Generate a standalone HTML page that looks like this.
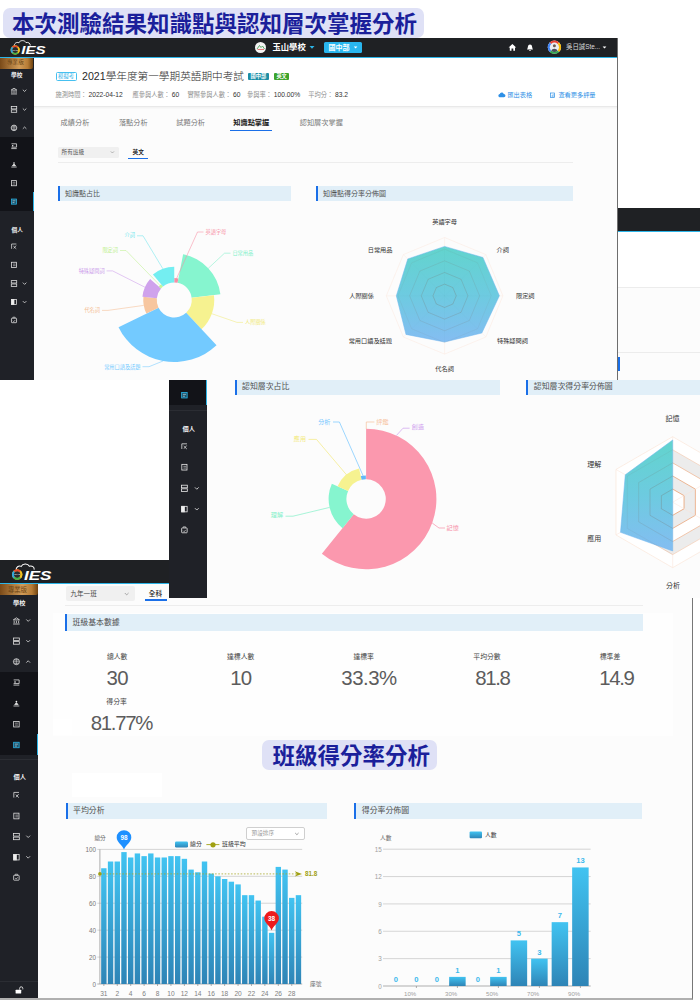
<!DOCTYPE html>
<html lang="zh-Hant">
<head>
<meta charset="utf-8">
<title>本次測驗結果知識點與認知層次掌握分析</title>
<style>
*{box-sizing:border-box;margin:0;padding:0}
html,body{width:700px;height:1000px;overflow:hidden;background:#fff}
body{position:relative;font-family:"Liberation Sans","Noto Sans CJK TC",sans-serif;color:#333}
.abs{position:absolute}
.t{position:absolute;white-space:nowrap;line-height:1}
.banner{position:absolute;background:#dfe1f6;border-radius:7px;color:#1b1f9b;font-weight:700;font-size:22.5px;letter-spacing:0;white-space:nowrap;line-height:32px}
.shot{position:absolute;overflow:hidden;background:#fcfcfc}
.hdr{position:absolute;left:0;top:0;background:#1f2124}
.side{position:absolute;left:0;background:#1f2127}
.sec{position:absolute;background:#e1eff8;border-left:2px solid #1a6fe8;color:#505050;white-space:nowrap}
svg{position:absolute;left:0;top:0;overflow:visible}
svg text{font-family:"Liberation Sans","Noto Sans CJK TC",sans-serif}
.inf{top:54.4px;font-size:6.25px;color:#909090}
.inf span{color:#333;font-size:6.7px;margin-left:1.8px}
.num{font-size:20.4px;color:#5c5c5c;line-height:1}
</style>
</head>
<body>

<!-- ============ hidden 4th screenshot (right strip) ============ -->
<div class="shot" id="s4" style="left:618px;top:208px;width:82px;height:172px;background:#fcfcfc">
  <div class="abs" style="left:0;top:0;width:82px;height:23px;background:#1f2124"></div>
  <div class="abs" style="left:0;top:23px;width:82px;height:1px;background:#2cb5e8"></div>
  <div class="abs" style="left:0;top:24px;width:82px;height:56px;background:#fff;border-bottom:1px solid #ececec"></div>
  <div class="abs" style="left:0;top:144px;width:82px;height:1px;background:#ececec"></div>
  <div class="abs" style="left:0;top:149px;width:2px;height:14px;background:#1a6fe8"></div>
</div>

<!-- ============ screenshot 1 ============ -->
<div class="shot" id="s1" style="left:0;top:38px;width:618px;height:342px;border-right:1px solid #6e6e6e">
  <!-- header -->
  <div class="abs" style="left:0;top:0;width:618px;height:19px;background:#1f2124"></div>
  <div class="abs" style="left:0;top:19px;width:618px;height:1px;background:#2cb5e8"></div>
  <!-- logo -->
  <svg width="60" height="20" viewBox="0 0 60 20">
    <path d="M14.4 8.2 C13.8 5.6 16.6 3.6 18.8 4.8 C20 2 24.6 1.8 26 4.6 C28.4 3.8 30.6 5.6 30.2 7.6" fill="none" stroke="#fff" stroke-width="0.9"/>
    <circle cx="15.2" cy="12" r="3.7" fill="none" stroke="#e6b422" stroke-width="1.9"/>
    <path d="M12.6 9.4 A3.7 3.7 0 0 1 17.8 9.4" fill="none" stroke="#e8452c" stroke-width="1.9"/>
    <path d="M17.8 9.4 A3.7 3.7 0 0 1 17.8 14.6" fill="none" stroke="#f0c020" stroke-width="1.9"/>
    <path d="M17.8 14.6 A3.7 3.7 0 0 1 12.6 14.6" fill="none" stroke="#3fb14a" stroke-width="1.9"/>
    <path d="M12.6 14.6 A3.7 3.7 0 0 1 12.6 9.4" fill="none" stroke="#2aa5e0" stroke-width="1.9"/>
    <circle cx="15.2" cy="12" r="2.7" fill="#2a2c30"/><text x="15.2" y="12.7" font-size="2" font-weight="700" fill="#ddd" text-anchor="middle">TEAM</text>
    <text x="21.2" y="16.4" font-size="11.4" font-weight="700" font-style="italic" fill="#fff" textLength="24.4" lengthAdjust="spacingAndGlyphs">IES</text>
  </svg>
  <!-- header centre -->
  <div class="abs" style="left:255px;top:3.5px;width:11px;height:11px;border-radius:50%;background:#f4f4f4"></div>
  <svg width="618" height="20" viewBox="0 0 618 20">
    <path d="M257 11 L259.5 7.5 L261 9.5 L262.5 8 L264.5 11" fill="none" stroke="#3a9a4a" stroke-width="0.8"/>
    <path d="M257.5 11.5 H264" stroke="#d44" stroke-width="0.7"/>
    <path d="M309.5 8 h5 l-2.5 2.8z" fill="#2cb5e8"/>
    <!-- home -->
    <path d="M508.6 9.6 L512.4 6 L516.2 9.6 H515 V12.8 H513.3 V10.5 H511.5 V12.8 H509.8 V9.6Z" fill="#fff"/>
    <!-- bell -->
    <path d="M527 11.5 C528 10.6 527.6 8 528.6 7 C529.2 6.2 530.8 6.2 531.4 7 C532.4 8 532 10.6 533 11.5Z M529.2 12 h1.6 v.8 h-1.6z" fill="#fff"/>
    <!-- avatar -->
    <circle cx="554.4" cy="9.2" r="6.6" fill="#fff"/>
    <path d="M549.7 4.5 A6.6 6.6 0 0 1 559.1 4.5 L554.4 9.2Z" fill="#ea4335"/>
    <path d="M559.1 4.5 A6.6 6.6 0 0 1 559.1 13.9 L554.4 9.2Z" fill="#fbbc05"/>
    <path d="M559.1 13.9 A6.6 6.6 0 0 1 549.7 13.9 L554.4 9.2Z" fill="#34a853"/>
    <path d="M549.7 13.9 A6.6 6.6 0 0 1 549.7 4.5 L554.4 9.2Z" fill="#4285f4"/>
    <circle cx="554.4" cy="9.2" r="4.6" fill="#e9eef2"/>
    <circle cx="554.4" cy="7.8" r="1.5" fill="#6b5a50"/>
    <path d="M551.4 12.8 C551.6 10 557.2 10 557.4 12.8 A4.6 4.6 0 0 1 551.4 12.8Z" fill="#4a4f5a"/>
    <path d="M602.6 8.4 h3.8 l-1.9 2.2z" fill="#fff"/>
  </svg>
  <div class="t" style="left:272.5px;top:5.2px;font-size:8.3px;font-weight:700;color:#fff">玉山學校</div>
  <div class="abs" style="left:323.5px;top:3.6px;width:38px;height:11px;border-radius:1.5px;background:#29b6ef"></div>
  <div class="t" style="left:328.5px;top:5.6px;font-size:7px;font-weight:700;color:#fff">國中部</div>
  <svg width="618" height="20" viewBox="0 0 618 20"><path d="M353.8 8.4 h3.6 l-1.8 2.1z" fill="#fff"/></svg>
  <div class="t" style="left:566px;top:6px;font-size:6.4px;color:#dcdcdc">吳日誠Ste...</div>
  <!-- sidebar -->
  <div class="side" style="top:20px;width:34px;height:322px"></div>
  <div class="abs" style="left:0;top:99px;width:34px;height:74px;background:#121318"></div>
  <div class="abs" style="left:33px;top:154px;width:1px;height:19px;background:#2cb5e8"></div>
  <div class="abs" style="left:0;top:20px;width:33px;height:10.5px;background:linear-gradient(90deg,#7a4a18,#d29c58 58%,#b67c36 84%,#70430f);border-radius:0 0 2px 0"></div>
  <div class="t" style="left:7px;top:22.4px;font-size:5.6px;color:#6b4514">專業版</div>
  <div class="t" style="left:11px;top:34.6px;font-size:5.7px;color:#f4f4f4;font-weight:700">學校</div>
  <div class="t" style="left:11.6px;top:190.4px;font-size:5.7px;color:#f4f4f4;font-weight:700">個人</div>
  <svg width="34" height="342" viewBox="0 0 34 342" fill="none" stroke="#e8e8e8" stroke-width="0.95">
<g transform="translate(14.0 52.6) scale(0.8)"><path d="M-3.6 -.6 L0 -3 L3.6 -.6 Z M-2.6 .4 V3.2 M0 .4 V3.2 M2.6 .4 V3.2 M-3.8 4.2 H3.8"/></g><g transform="translate(24.6 52.6) scale(0.8)"><path d="M-2.2 -1.1 l2.2 2.2 l2.2 -2.2"/></g>
<g transform="translate(14.0 71.4) scale(0.8)"><rect x="-3.4" y="-3.6" width="6.8" height="3"/><rect x="-3.4" y=".6" width="6.8" height="3"/></g><g transform="translate(24.6 71.4) scale(0.8)"><path d="M-2.2 -1.1 l2.2 2.2 l2.2 -2.2"/></g>
<g transform="translate(14.0 89.9) scale(0.8)"><circle cx="0" cy="0" r="3.5"/><path d="M-3.4 0 H3.4 M0 -3.4 V3.4 M-2.4 -2 H2.4 M-2.4 2 H2.4" stroke-width="0.6"/></g><g transform="translate(24.6 89.9) scale(0.8)"><path d="M-2.2 1.1 l2.2 -2.2 l2.2 2.2"/></g>
<g transform="translate(14.0 108.2) scale(0.8)"><path d="M-3.2 -3 H3.2 V1.2 H-3.2 M-3.4 3 H3.4"/><circle cx="-1.6" cy="-.6" r="0.9" fill="#fff" stroke="none"/></g>
<g transform="translate(14.0 126.7) scale(0.8)"><path d="M-3.4 2.9 H3.4"/><path d="M-2 1.2 L0 -1 L2 1.2 Z" fill="#eee"/><circle cx="0" cy="-2.2" r="1" fill="#eee" stroke="none"/></g>
<g transform="translate(14.0 145.2) scale(0.8)"><rect x="-3.2" y="-3.2" width="6.4" height="6.4"/><path d="M-1.8 -1.2 H1.8 M-1.8 1 H1.8" stroke-width="0.7"/></g>
<g transform="translate(14.0 163.6) scale(0.8)"><rect x="-3.2" y="-3.2" width="6.4" height="6.4" stroke="#2cb5e8" fill="#2cb5e8" fill-opacity=".4"/><path d="M-1.8 -1 H1.8 M-1.8 1.2 H.6" stroke="#d8f3ff" stroke-width="0.7"/></g>
<g transform="translate(14.0 208.4) scale(0.8)"><path d="M-3 -3 H3 M-3 -3 V3 M-.8 -.4 L2.8 3 M2.6 -1 L-.4 2.6" stroke-width="0.9"/></g>
<g transform="translate(14.0 226.9) scale(0.8)"><rect x="-3" y="-3.3" width="6" height="6.6"/><path d="M-1.2 -1 H2 M-1.2 1 H2" stroke-width="0.7"/></g>
<g transform="translate(14.0 245.5) scale(0.8)"><rect x="-3.4" y="-3.6" width="6.8" height="3"/><rect x="-3.4" y=".6" width="6.8" height="3"/></g><g transform="translate(24.6 245.5) scale(0.8)"><path d="M-2.2 -1.1 l2.2 2.2 l2.2 -2.2"/></g>
<g transform="translate(14.0 264.0) scale(0.8)"><rect x="-3.2" y="-3.2" width="6.4" height="6.4"/><rect x="-3.2" y="-3.2" width="3.2" height="6.4" fill="#eee"/></g><g transform="translate(24.6 264.0) scale(0.8)"><path d="M-2.2 -1.1 l2.2 2.2 l2.2 -2.2"/></g>
<g transform="translate(14.0 282.3) scale(0.8)"><rect x="-3.2" y="-2.6" width="6.4" height="5.6" rx="0.6"/><path d="M-1.4 -2.8 V-3.9 H1.4 V-2.8 M-1.4 .6 l1.1 1.1 l1.8 -2" stroke-width="0.8"/></g>
</svg>
  <!-- top panel -->
  <div class="abs" style="left:34px;top:20px;width:584px;height:49px;background:#fff;border-bottom:1px solid #e9e9e9;box-shadow:0 1px 2px rgba(0,0,0,.05)"></div>
  <div class="abs" style="left:55.5px;top:34px;width:21.5px;height:8.6px;border:1px solid #46c0f0;border-radius:1.5px"></div>
  <div class="t" style="left:58px;top:35.8px;font-size:5.4px;color:#2fb3ea">模擬考</div>
  <div class="t" style="left:82px;top:33px;font-size:10.65px;font-weight:300;color:#2a2a2a">2021學年度第一學期英語期中考試</div>
  <div class="abs" style="left:248.4px;top:34.8px;width:20.6px;height:7px;background:#1b8ea6;border-radius:1px"></div>
  <div class="t" style="left:250.6px;top:35.9px;font-size:5.2px;color:#fff;font-weight:700">國中部</div>
  <div class="abs" style="left:274px;top:34.8px;width:15.2px;height:7px;background:#3da42c;border-radius:1px"></div>
  <div class="t" style="left:276.4px;top:35.9px;font-size:5.2px;color:#fff;font-weight:700">英文</div>
  <div class="t inf" style="left:55.4px">施測時間：<span>2022-04-12</span></div>
  <div class="t inf" style="left:132.5px">應參與人數：<span>60</span></div>
  <div class="t inf" style="left:187.4px">實際參與人數：<span>60</span></div>
  <div class="t inf" style="left:247px">參與率：<span>100.00%</span></div>
  <div class="t inf" style="left:308.2px">平均分：<span>83.2</span></div>
  <!-- export links -->
  <svg width="618" height="342" viewBox="0 0 618 342">
    <path d="M499.4 59.2 a1.6 1.6 0 0 1 .4 -3.1 a2 2 0 0 1 3.9 -.2 a1.6 1.6 0 0 1 .2 3.3Z" fill="#2d8fe6"/>
    <rect x="550.6" y="55" width="4" height="4.6" fill="none" stroke="#2d8fe6" stroke-width="0.7"/>
    <circle cx="553.2" cy="58" r="1.2" fill="#fff" stroke="#2d8fe6" stroke-width="0.6"/>
  </svg>
  <div class="t" style="left:507.4px;top:53.6px;font-size:6.2px;color:#2d8fe6">匯出表格</div>
  <div class="t" style="left:558.4px;top:53.6px;font-size:6.2px;color:#2d8fe6">查看更多評量</div>
  <!-- tabs -->
  <div class="t" style="left:60.6px;top:81.2px;font-size:7.2px;color:#777">成績分析</div>
  <div class="t" style="left:118.9px;top:81.2px;font-size:7.2px;color:#777">落點分析</div>
  <div class="t" style="left:176.3px;top:81.2px;font-size:7.2px;color:#777">試題分析</div>
  <div class="t" style="left:233.3px;top:81.2px;font-size:7.2px;color:#222;font-weight:700">知識點掌握</div>
  <div class="abs" style="left:230.3px;top:92.4px;width:41.6px;height:1px;background:#1a6fe8"></div>
  <div class="t" style="left:299.7px;top:81.2px;font-size:7.2px;color:#777">認知層次掌握</div>
  <!-- filters -->
  <div class="abs" style="left:57.6px;top:108.6px;width:61.4px;height:11.4px;background:#f0f0f0;border-radius:1.5px"></div>
  <div class="t" style="left:61.6px;top:111.6px;font-size:5.6px;color:#555">所有班級</div>
  <svg width="618" height="342" viewBox="0 0 618 342"><path d="M110.8 113.4 l1.6 1.6 l1.6 -1.6" fill="none" stroke="#888" stroke-width="0.6"/></svg>
  <div class="t" style="left:132.6px;top:111.6px;font-size:5.6px;color:#222;font-weight:700">英文</div>
  <div class="abs" style="left:128.3px;top:120.4px;width:19.4px;height:1px;background:#1a6fe8"></div>
  <div class="abs" style="left:57.6px;top:123.6px;width:515px;height:1px;background:#ededed"></div>
  <!-- section headers -->
  <div class="sec" style="left:58px;top:148px;width:233px;height:15px;font-size:7px;line-height:15px;padding-left:5px">知識點占比</div>
  <div class="sec" style="left:316px;top:148px;width:257px;height:15px;font-size:7px;line-height:15px;padding-left:5px">知識點得分率分佈圖</div>
  <svg width="618" height="342" viewBox="0 0 618 342">
<path d="M174.25 240.00 A22 22 0 0 1 178.45 240.40 L177.59 244.82 A17.5 17.5 0 0 0 174.25 244.50Z" fill="#f78ea4"/>
<path d="M183.12 216.35 A46.5 46.5 0 0 1 220.40 256.33 L191.62 259.87 A17.5 17.5 0 0 0 177.59 244.82Z" fill="#86f5cf"/>
<path d="M213.95 257.13 A40 40 0 0 1 201.53 291.25 L186.18 274.80 A17.5 17.5 0 0 0 191.62 259.87Z" fill="#f6f290"/>
<path d="M216.53 307.34 A62 62 0 0 1 118.52 289.18 L158.52 269.67 A17.5 17.5 0 0 0 186.18 274.80Z" fill="#73caff"/>
<path d="M146.39 275.59 A31 31 0 0 1 143.42 258.76 L156.85 260.17 A17.5 17.5 0 0 0 158.52 269.67Z" fill="#f7c69f"/>
<path d="M142.43 258.66 A32 32 0 0 1 150.10 241.01 L161.04 250.52 A17.5 17.5 0 0 0 156.85 260.17Z" fill="#cfa2ec"/>
<path d="M158.78 248.55 A20.5 20.5 0 0 1 161.07 246.30 L163.00 248.59 A17.5 17.5 0 0 0 161.04 250.52Z" fill="#c6f59c"/>
<path d="M152.91 236.57 A33.2 33.2 0 0 1 174.25 228.80 L174.25 244.50 A17.5 17.5 0 0 0 163.00 248.59Z" fill="#74eef1"/>
<path d="M176.3 241.1 L197.5 194.0 L203.5 194.0" fill="none" stroke="#f78ea4" stroke-width="0.55"/><text x="205.5" y="193.8" font-size="5.2" fill="#f78ea4" text-anchor="start" dominant-baseline="central">英語字母</text>
<path d="M208.3 230.3 L224.5 215.2 L230.5 215.2" fill="none" stroke="#7cf0c8" stroke-width="0.55"/><text x="232.4" y="215.0" font-size="5.2" fill="#7cf0c8" text-anchor="start" dominant-baseline="central">日常用品</text>
<path d="M211.8 275.7 L237.0 284.4 L243.0 284.4" fill="none" stroke="#f1ea7c" stroke-width="0.55"/><text x="245" y="284.2" font-size="5.2" fill="#f1ea7c" text-anchor="start" dominant-baseline="central">人際關係</text>
<path d="M163.0 323.0 L149.0 328.7 L142.5 328.7" fill="none" stroke="#73caff" stroke-width="0.55"/><text x="140.5" y="328.5" font-size="5.2" fill="#73caff" text-anchor="end" dominant-baseline="central">常用口語及話題</text>
<path d="M143.7 267.4 L108.0 272.4 L102.0 272.4" fill="none" stroke="#f5bd92" stroke-width="0.55"/><text x="100" y="272.2" font-size="5.2" fill="#f5bd92" text-anchor="end" dominant-baseline="central">代名詞</text>
<path d="M144.9 249.2 L112.6 232.9 L106.6 232.9" fill="none" stroke="#cb9bea" stroke-width="0.55"/><text x="104.6" y="232.5" font-size="5.2" fill="#cb9bea" text-anchor="end" dominant-baseline="central">特殊疑問詞</text>
<path d="M160.2 247.7 L126.0 212.5 L120.0 212.5" fill="none" stroke="#bdf08e" stroke-width="0.55"/><text x="118" y="212.1" font-size="5.2" fill="#bdf08e" text-anchor="end" dominant-baseline="central">限定詞</text>
<path d="M162.9 230.8 L143.0 197.8 L137.0 197.8" fill="none" stroke="#6ee6ec" stroke-width="0.55"/><text x="135" y="197.4" font-size="5.2" fill="#6ee6ec" text-anchor="end" dominant-baseline="central">介詞</text>
<defs><linearGradient id="rg1" x1="0" y1="0" x2="0" y2="1"><stop offset="0" stop-color="#62d4cd"/><stop offset="0.5" stop-color="#6dcbe0"/><stop offset="1" stop-color="#84bdf2"/></linearGradient></defs>
<polygon points="444.60,199.50 403.38,216.58 386.30,257.80 403.38,299.02 444.60,316.10 485.82,299.02 502.90,257.80 485.82,216.58" fill="none" stroke="#fcebe3" stroke-width="0.6"/>
<line x1="444.6" y1="257.8" x2="444.60" y2="199.50" stroke="#fcebe3" stroke-width="0.5"/>
<line x1="444.6" y1="257.8" x2="403.38" y2="216.58" stroke="#fcebe3" stroke-width="0.5"/>
<line x1="444.6" y1="257.8" x2="386.30" y2="257.80" stroke="#fcebe3" stroke-width="0.5"/>
<line x1="444.6" y1="257.8" x2="403.38" y2="299.02" stroke="#fcebe3" stroke-width="0.5"/>
<line x1="444.6" y1="257.8" x2="444.60" y2="316.10" stroke="#fcebe3" stroke-width="0.5"/>
<line x1="444.6" y1="257.8" x2="485.82" y2="299.02" stroke="#fcebe3" stroke-width="0.5"/>
<line x1="444.6" y1="257.8" x2="502.90" y2="257.80" stroke="#fcebe3" stroke-width="0.5"/>
<line x1="444.6" y1="257.8" x2="485.82" y2="216.58" stroke="#fcebe3" stroke-width="0.5"/>
<polygon points="444.60,208.42 407.75,220.95 396.33,257.80 405.97,296.43 444.60,304.03 481.83,295.03 499.40,257.80 482.94,219.46" fill="url(#rg1)" stroke="#6db4ee" stroke-width="0.5"/>
<polygon points="444.60,246.14 436.36,249.56 432.94,257.80 436.36,266.04 444.60,269.46 452.84,266.04 456.26,257.80 452.84,249.56" fill="none" stroke="rgba(120,110,100,0.5)" stroke-width="0.55"/>
<polygon points="444.60,234.48 428.11,241.31 421.28,257.80 428.11,274.29 444.60,281.12 461.09,274.29 467.92,257.80 461.09,241.31" fill="none" stroke="rgba(120,110,100,0.42)" stroke-width="0.55"/>
<polygon points="444.60,222.82 419.87,233.07 409.62,257.80 419.87,282.53 444.60,292.78 469.33,282.53 479.58,257.80 469.33,233.07" fill="none" stroke="rgba(120,110,100,0.28)" stroke-width="0.55"/>
<polygon points="444.60,211.16 411.62,224.82 397.96,257.80 411.62,290.78 444.60,304.44 477.58,290.78 491.24,257.80 477.58,224.82" fill="none" stroke="rgba(120,110,100,0.14)" stroke-width="0.55"/>
<line x1="444.6" y1="257.8" x2="444.60" y2="211.16" stroke="rgba(90,120,130,.05)" stroke-width="0.5"/>
<line x1="444.6" y1="257.8" x2="411.62" y2="224.82" stroke="rgba(90,120,130,.05)" stroke-width="0.5"/>
<line x1="444.6" y1="257.8" x2="397.96" y2="257.80" stroke="rgba(90,120,130,.05)" stroke-width="0.5"/>
<line x1="444.6" y1="257.8" x2="411.62" y2="290.78" stroke="rgba(90,120,130,.05)" stroke-width="0.5"/>
<line x1="444.6" y1="257.8" x2="444.60" y2="304.44" stroke="rgba(90,120,130,.05)" stroke-width="0.5"/>
<line x1="444.6" y1="257.8" x2="477.58" y2="290.78" stroke="rgba(90,120,130,.05)" stroke-width="0.5"/>
<line x1="444.6" y1="257.8" x2="491.24" y2="257.80" stroke="rgba(90,120,130,.05)" stroke-width="0.5"/>
<line x1="444.6" y1="257.8" x2="477.58" y2="224.82" stroke="rgba(90,120,130,.05)" stroke-width="0.5"/>
<text x="444.6" y="183.2" font-size="6.2" fill="#333" text-anchor="middle" dominant-baseline="central">英語字母</text>
<text x="496.5" y="211.4" font-size="6.2" fill="#333" text-anchor="start" dominant-baseline="central">介詞</text>
<text x="516" y="257.0" font-size="6.2" fill="#333" text-anchor="start" dominant-baseline="central">限定詞</text>
<text x="497" y="302.6" font-size="6.2" fill="#333" text-anchor="start" dominant-baseline="central">特殊疑問詞</text>
<text x="444.6" y="330.5" font-size="6.2" fill="#333" text-anchor="middle" dominant-baseline="central">代名詞</text>
<text x="392" y="302.6" font-size="6.2" fill="#333" text-anchor="end" dominant-baseline="central">常用口語及話題</text>
<text x="374" y="257.0" font-size="6.2" fill="#333" text-anchor="end" dominant-baseline="central">人際關係</text>
<text x="392.5" y="211.4" font-size="6.2" fill="#333" text-anchor="end" dominant-baseline="central">日常用品</text>
</svg>
</div>

<!-- ============ screenshot 3 (class analysis) ============ -->
<div class="shot" id="s3" style="left:0;top:560px;width:693px;height:440px;border-right:1px solid #777;border-bottom:2px solid #b0b0b0">
  <div class="abs" style="left:0;top:0;width:693px;height:23px;background:#1f2124"></div>
<div class="abs" style="left:0;top:23px;width:693px;height:1.3px;background:#2cb5e8"></div>
<svg width="70" height="24" viewBox="0 0 60 20" style="width:67.8px;height:22.6px;top:0.6px;left:0.4px">
    <path d="M14.4 8.2 C13.8 5.6 16.6 3.6 18.8 4.8 C20 2 24.6 1.8 26 4.6 C28.4 3.8 30.6 5.6 30.2 7.6" fill="none" stroke="#fff" stroke-width="0.9"/>
    <circle cx="15.2" cy="12" r="3.7" fill="none" stroke="#e6b422" stroke-width="1.9"/>
    <path d="M12.6 9.4 A3.7 3.7 0 0 1 17.8 9.4" fill="none" stroke="#e8452c" stroke-width="1.9"/>
    <path d="M17.8 9.4 A3.7 3.7 0 0 1 17.8 14.6" fill="none" stroke="#f0c020" stroke-width="1.9"/>
    <path d="M17.8 14.6 A3.7 3.7 0 0 1 12.6 14.6" fill="none" stroke="#3fb14a" stroke-width="1.9"/>
    <path d="M12.6 14.6 A3.7 3.7 0 0 1 12.6 9.4" fill="none" stroke="#2aa5e0" stroke-width="1.9"/>
    <circle cx="15.2" cy="12" r="2.7" fill="#2a2c30"/><text x="15.2" y="12.7" font-size="2" font-weight="700" fill="#ddd" text-anchor="middle">TEAM</text>
    <text x="21.2" y="16.4" font-size="11.4" font-weight="700" font-style="italic" fill="#fff" textLength="24.4" lengthAdjust="spacingAndGlyphs">IES</text>
  </svg>
<div class="abs" style="left:0;top:1px;width:693px;height:439px">
<div class="side" style="top:23.3px;width:38.4px;height:414px"></div>
<div class="abs" style="left:0;top:111px;width:38.4px;height:83px;background:#121318"></div><div class="abs" style="left:0;top:198.2px;width:38.4px;height:1px;background:#2b2d33"></div>
<div class="abs" style="left:37px;top:173.4px;width:1.4px;height:20.6px;background:#2cb5e8"></div>
<div class="abs" style="left:0;top:419.6px;width:38.4px;height:1px;background:#2b2d33"></div>
<div class="abs" style="left:0;top:23.3px;width:37.8px;height:11.2px;background:linear-gradient(90deg,#7a4a18,#d29c58 58%,#b67c36 84%,#70430f);border-radius:0 0 2px 0"></div>
<div class="t" style="left:8px;top:26.4px;font-size:6.3px;color:#6b4514">專業版</div>
<div class="t" style="left:13px;top:38.6px;font-size:6.2px;color:#f4f4f4;font-weight:700">學校</div>
<div class="t" style="left:13.6px;top:213.4px;font-size:6.2px;color:#f4f4f4;font-weight:700">個人</div>
<svg width="39" height="440" viewBox="0 0 39 440" fill="none" stroke="#e4e4e4" stroke-width="0.9">
<g transform="translate(16.4 59.4) scale(0.86)"><path d="M-3.6 -.6 L0 -3 L3.6 -.6 Z M-2.6 .4 V3.2 M0 .4 V3.2 M2.6 .4 V3.2 M-3.8 4.2 H3.8"/></g><g transform="translate(28.2 59.4) scale(0.86)"><path d="M-2.2 -1.1 l2.2 2.2 l2.2 -2.2"/></g>
<g transform="translate(16.4 80.1) scale(0.86)"><rect x="-3.4" y="-3.6" width="6.8" height="3"/><rect x="-3.4" y=".6" width="6.8" height="3"/></g><g transform="translate(28.2 80.1) scale(0.86)"><path d="M-2.2 -1.1 l2.2 2.2 l2.2 -2.2"/></g>
<g transform="translate(16.4 100.7) scale(0.86)"><circle cx="0" cy="0" r="3.5"/><path d="M-3.4 0 H3.4 M0 -3.4 V3.4 M-2.4 -2 H2.4 M-2.4 2 H2.4" stroke-width="0.6"/></g><g transform="translate(28.2 100.7) scale(0.86)"><path d="M-2.2 1.1 l2.2 -2.2 l2.2 2.2"/></g>
<g transform="translate(16.4 121.5) scale(0.86)"><path d="M-3.2 -3 H3.2 V1.2 H-3.2 M-3.4 3 H3.4"/><circle cx="-1.6" cy="-.6" r="0.9" fill="#fff" stroke="none"/></g>
<g transform="translate(16.4 142.5) scale(0.86)"><path d="M-3.4 2.9 H3.4"/><path d="M-2 1.2 L0 -1 L2 1.2 Z" fill="#eee"/><circle cx="0" cy="-2.2" r="1" fill="#eee" stroke="none"/></g>
<g transform="translate(16.4 163.2) scale(0.86)"><rect x="-3.2" y="-3.2" width="6.4" height="6.4"/><path d="M-1.8 -1.2 H1.8 M-1.8 1 H1.8" stroke-width="0.7"/></g>
<g transform="translate(16.4 184.0) scale(0.86)"><rect x="-3.2" y="-3.2" width="6.4" height="6.4" stroke="#2cb5e8" fill="#2cb5e8" fill-opacity=".4"/><path d="M-1.8 -1 H1.8 M-1.8 1.2 H.6" stroke="#d8f3ff" stroke-width="0.7"/></g>
<g transform="translate(16.4 234.0) scale(0.86)"><path d="M-3 -3 H3 M-3 -3 V3 M-.8 -.4 L2.8 3 M2.6 -1 L-.4 2.6" stroke-width="0.9"/></g>
<g transform="translate(16.4 255.0) scale(0.86)"><rect x="-3" y="-3.3" width="6" height="6.6"/><path d="M-1.2 -1 H2 M-1.2 1 H2" stroke-width="0.7"/></g>
<g transform="translate(16.4 275.6) scale(0.86)"><rect x="-3.4" y="-3.6" width="6.8" height="3"/><rect x="-3.4" y=".6" width="6.8" height="3"/></g><g transform="translate(28.2 275.6) scale(0.86)"><path d="M-2.2 -1.1 l2.2 2.2 l2.2 -2.2"/></g>
<g transform="translate(16.4 296.2) scale(0.86)"><rect x="-3.2" y="-3.2" width="6.4" height="6.4"/><rect x="-3.2" y="-3.2" width="3.2" height="6.4" fill="#eee"/></g><g transform="translate(28.2 296.2) scale(0.86)"><path d="M-2.2 -1.1 l2.2 2.2 l2.2 -2.2"/></g>
<g transform="translate(16.4 316.6) scale(0.86)"><rect x="-3.2" y="-2.6" width="6.4" height="5.6" rx="0.6"/><path d="M-1.4 -2.8 V-3.9 H1.4 V-2.8 M-1.4 .6 l1.1 1.1 l1.8 -2" stroke-width="0.8"/></g>
<rect x="15.6" y="428.79999999999995" width="5.6" height="3.8" fill="#fff" stroke="none" rx=".5"/><path d="M19.6 428.59999999999997 V427.4 a1.6 1.6 0 0 1 3.2 0 V428.4" stroke-width="0.9"/>
</svg>
<div class="abs" style="left:65.8px;top:25.2px;width:69px;height:14.8px;background:#f0f0f0;border-radius:2px"></div>
<div class="t" style="left:70.4px;top:29.8px;font-size:6.6px;color:#444">九年一班</div>
<svg width="693" height="437" viewBox="0 0 693 437"><path d="M124.8 32 l1.9 1.9 l1.9 -1.9" fill="none" stroke="#888" stroke-width="0.7"/></svg>
<div class="t" style="left:148.8px;top:29.8px;font-size:6.6px;color:#222;font-weight:500">全科</div>
<div class="abs" style="left:145px;top:38.4px;width:21.6px;height:1.2px;background:#1a6fe8"></div>
<div class="abs" style="left:65px;top:44.4px;width:578px;height:1px;background:#ededed"></div>
<div class="abs" style="left:53px;top:52px;width:620px;height:123px;background:#fefefe"></div>
<div class="sec" style="left:65px;top:52.8px;width:577.6px;height:17px;font-size:7.9px;line-height:17px;padding-left:5.4px;border-left-width:2.6px">班級基本數據</div>
<div class="t" style="left:77.2px;width:80px;text-align:center;top:93.3px;font-size:6.85px;color:#444">總人數</div>
<div class="t num" style="left:57.2px;width:120px;text-align:center;top:107.0px;letter-spacing:-0.7px">30</div>
<div class="t" style="left:200.7px;width:80px;text-align:center;top:93.3px;font-size:6.85px;color:#444">達標人數</div>
<div class="t num" style="left:180.8px;width:120px;text-align:center;top:107.0px;letter-spacing:-0.7px">10</div>
<div class="t" style="left:323.7px;width:80px;text-align:center;top:93.3px;font-size:6.85px;color:#444">達標率</div>
<div class="t num" style="left:309px;width:120px;text-align:center;top:107.0px;letter-spacing:-0.5px">33.3%</div>
<div class="t" style="left:447px;width:80px;text-align:center;top:93.3px;font-size:6.85px;color:#444">平均分數</div>
<div class="t num" style="left:432.4px;width:120px;text-align:center;top:107.0px;letter-spacing:-1.4px">81.8</div>
<div class="t" style="left:570px;width:80px;text-align:center;top:93.3px;font-size:6.85px;color:#444">標準差</div>
<div class="t num" style="left:556.3px;width:120px;text-align:center;top:107.0px;letter-spacing:-1.4px">14.9</div>
<div class="t" style="left:76.6px;width:80px;text-align:center;top:137.9px;font-size:6.85px;color:#444">得分率</div>
<div class="t num" style="left:61.400000000000006px;width:120px;text-align:center;top:151.8px;letter-spacing:-1.3px">81.77%</div>
<div class="abs" style="left:72.4px;top:212px;width:89.6px;height:24px;background:#fff"></div>
<div class="abs" style="left:53.4px;top:158px;width:19px;height:16.4px;background:#fff"></div>
<div class="sec" style="left:65.6px;top:242px;width:261px;height:16.4px;font-size:7.9px;line-height:16.4px;padding-left:5.4px;border-left-width:2.6px">平均分析</div>
<div class="sec" style="left:354.4px;top:242px;width:288px;height:16.4px;font-size:7.9px;line-height:16.4px;padding-left:5.4px;border-left-width:2.6px">得分率分佈圖</div>
<div class="abs" style="left:246.2px;top:266px;width:58.6px;height:13px;background:#fff;border:1px solid #cfcfcf;border-radius:2px"></div>
<div class="t" style="left:251.6px;top:270px;font-size:5.6px;color:#999">預設排序</div>
<svg width="693" height="437" viewBox="0 0 693 437">
<defs><linearGradient id="bg" x1="0" y1="0" x2="0" y2="1"><stop offset="0" stop-color="#41c3f1"/><stop offset="1" stop-color="#2e84b6"/></linearGradient></defs>
<path d="M295.2 272 l1.7 1.7 l1.7 -1.7" fill="none" stroke="#777" stroke-width="0.7"/>
<line x1="97.30000000000001" y1="423.00" x2="302.2" y2="423.00" stroke="#8c8c8c" stroke-width="0.7"/>
<text x="95.9" y="423.10" font-size="6.3" fill="#777" text-anchor="end" dominant-baseline="central">0</text>
<line x1="97.30000000000001" y1="396.08" x2="302.2" y2="396.08" stroke="#c4c4c4" stroke-width="0.7"/>
<text x="95.9" y="396.18" font-size="6.3" fill="#777" text-anchor="end" dominant-baseline="central">20</text>
<line x1="97.30000000000001" y1="369.16" x2="302.2" y2="369.16" stroke="#c4c4c4" stroke-width="0.7"/>
<text x="95.9" y="369.26" font-size="6.3" fill="#777" text-anchor="end" dominant-baseline="central">40</text>
<line x1="97.30000000000001" y1="342.24" x2="302.2" y2="342.24" stroke="#c4c4c4" stroke-width="0.7"/>
<text x="95.9" y="342.34" font-size="6.3" fill="#777" text-anchor="end" dominant-baseline="central">60</text>
<line x1="97.30000000000001" y1="315.32" x2="302.2" y2="315.32" stroke="#c4c4c4" stroke-width="0.7"/>
<text x="95.9" y="315.42" font-size="6.3" fill="#777" text-anchor="end" dominant-baseline="central">80</text>
<line x1="97.30000000000001" y1="288.40" x2="302.2" y2="288.40" stroke="#c4c4c4" stroke-width="0.7"/>
<text x="95.9" y="288.50" font-size="6.3" fill="#777" text-anchor="end" dominant-baseline="central">100</text>
<line x1="99.9" y1="288.40" x2="99.9" y2="423" stroke="#8c8c8c" stroke-width="0.7"/>
<rect x="101.16" y="307.24" width="5.4" height="115.76" fill="url(#bg)"/>
<line x1="103.86" y1="423" x2="103.86" y2="425" stroke="#8c8c8c" stroke-width="0.7"/>
<text x="103.86" y="432.4" font-size="6.6" fill="#808080" text-anchor="middle" dominant-baseline="central">31</text>
<rect x="107.86" y="300.51" width="5.4" height="122.49" fill="url(#bg)"/>
<rect x="114.58" y="300.51" width="5.4" height="122.49" fill="url(#bg)"/>
<line x1="117.28" y1="423" x2="117.28" y2="425" stroke="#8c8c8c" stroke-width="0.7"/>
<text x="117.28" y="432.4" font-size="6.6" fill="#808080" text-anchor="middle" dominant-baseline="central">2</text>
<rect x="121.28" y="291.09" width="5.4" height="131.91" fill="url(#bg)"/>
<rect x="127.99" y="296.48" width="5.4" height="126.52" fill="url(#bg)"/>
<line x1="130.69" y1="423" x2="130.69" y2="425" stroke="#8c8c8c" stroke-width="0.7"/>
<text x="130.69" y="432.4" font-size="6.6" fill="#808080" text-anchor="middle" dominant-baseline="central">4</text>
<rect x="134.71" y="292.44" width="5.4" height="130.56" fill="url(#bg)"/>
<rect x="141.42" y="295.13" width="5.4" height="127.87" fill="url(#bg)"/>
<line x1="144.12" y1="423" x2="144.12" y2="425" stroke="#8c8c8c" stroke-width="0.7"/>
<text x="144.12" y="432.4" font-size="6.6" fill="#808080" text-anchor="middle" dominant-baseline="central">6</text>
<rect x="148.12" y="292.44" width="5.4" height="130.56" fill="url(#bg)"/>
<rect x="154.84" y="296.48" width="5.4" height="126.52" fill="url(#bg)"/>
<line x1="157.53" y1="423" x2="157.53" y2="425" stroke="#8c8c8c" stroke-width="0.7"/>
<text x="157.53" y="432.4" font-size="6.6" fill="#808080" text-anchor="middle" dominant-baseline="central">8</text>
<rect x="161.55" y="296.48" width="5.4" height="126.52" fill="url(#bg)"/>
<rect x="168.25" y="295.13" width="5.4" height="127.87" fill="url(#bg)"/>
<line x1="170.95" y1="423" x2="170.95" y2="425" stroke="#8c8c8c" stroke-width="0.7"/>
<text x="170.95" y="432.4" font-size="6.6" fill="#808080" text-anchor="middle" dominant-baseline="central">10</text>
<rect x="174.97" y="295.13" width="5.4" height="127.87" fill="url(#bg)"/>
<rect x="181.68" y="297.82" width="5.4" height="125.18" fill="url(#bg)"/>
<line x1="184.38" y1="423" x2="184.38" y2="425" stroke="#8c8c8c" stroke-width="0.7"/>
<text x="184.38" y="432.4" font-size="6.6" fill="#808080" text-anchor="middle" dominant-baseline="central">12</text>
<rect x="188.38" y="308.59" width="5.4" height="114.41" fill="url(#bg)"/>
<rect x="195.10" y="311.28" width="5.4" height="111.72" fill="url(#bg)"/>
<line x1="197.80" y1="423" x2="197.80" y2="425" stroke="#8c8c8c" stroke-width="0.7"/>
<text x="197.80" y="432.4" font-size="6.6" fill="#808080" text-anchor="middle" dominant-baseline="central">14</text>
<rect x="201.81" y="300.51" width="5.4" height="122.49" fill="url(#bg)"/>
<rect x="208.52" y="312.63" width="5.4" height="110.37" fill="url(#bg)"/>
<line x1="211.22" y1="423" x2="211.22" y2="425" stroke="#8c8c8c" stroke-width="0.7"/>
<text x="211.22" y="432.4" font-size="6.6" fill="#808080" text-anchor="middle" dominant-baseline="central">16</text>
<rect x="215.23" y="315.32" width="5.4" height="107.68" fill="url(#bg)"/>
<rect x="221.94" y="318.01" width="5.4" height="104.99" fill="url(#bg)"/>
<line x1="224.63" y1="423" x2="224.63" y2="425" stroke="#8c8c8c" stroke-width="0.7"/>
<text x="224.63" y="432.4" font-size="6.6" fill="#808080" text-anchor="middle" dominant-baseline="central">18</text>
<rect x="228.65" y="320.70" width="5.4" height="102.30" fill="url(#bg)"/>
<rect x="235.36" y="323.40" width="5.4" height="99.60" fill="url(#bg)"/>
<line x1="238.06" y1="423" x2="238.06" y2="425" stroke="#8c8c8c" stroke-width="0.7"/>
<text x="238.06" y="432.4" font-size="6.6" fill="#808080" text-anchor="middle" dominant-baseline="central">20</text>
<rect x="242.06" y="334.16" width="5.4" height="88.84" fill="url(#bg)"/>
<rect x="248.78" y="334.16" width="5.4" height="88.84" fill="url(#bg)"/>
<line x1="251.47" y1="423" x2="251.47" y2="425" stroke="#8c8c8c" stroke-width="0.7"/>
<text x="251.47" y="432.4" font-size="6.6" fill="#808080" text-anchor="middle" dominant-baseline="central">22</text>
<rect x="255.49" y="339.55" width="5.4" height="83.45" fill="url(#bg)"/>
<rect x="262.19" y="355.70" width="5.4" height="67.30" fill="url(#bg)"/>
<line x1="264.89" y1="423" x2="264.89" y2="425" stroke="#8c8c8c" stroke-width="0.7"/>
<text x="264.89" y="432.4" font-size="6.6" fill="#808080" text-anchor="middle" dominant-baseline="central">24</text>
<rect x="268.91" y="371.85" width="5.4" height="51.15" fill="url(#bg)"/>
<rect x="275.62" y="305.90" width="5.4" height="117.10" fill="url(#bg)"/>
<line x1="278.31" y1="423" x2="278.31" y2="425" stroke="#8c8c8c" stroke-width="0.7"/>
<text x="278.31" y="432.4" font-size="6.6" fill="#808080" text-anchor="middle" dominant-baseline="central">26</text>
<rect x="282.32" y="308.59" width="5.4" height="114.41" fill="url(#bg)"/>
<rect x="289.04" y="336.86" width="5.4" height="86.14" fill="url(#bg)"/>
<line x1="291.74" y1="423" x2="291.74" y2="425" stroke="#8c8c8c" stroke-width="0.7"/>
<text x="291.74" y="432.4" font-size="6.6" fill="#808080" text-anchor="middle" dominant-baseline="central">28</text>
<rect x="295.75" y="334.16" width="5.4" height="88.84" fill="url(#bg)"/>
<line x1="99.9" y1="312.90" x2="297.2" y2="312.90" stroke="#a8a82a" stroke-width="0.8" stroke-dasharray="1.6 1.6"/>
<circle cx="99.9" cy="312.90" r="1.8" fill="#a0a012"/>
<path d="M294.8 310.30 L302.0 312.90 L294.8 315.50 L296.8 312.90Z" fill="#a0a012"/>
<text x="305.0" y="312.90" font-size="6.3" fill="#a0a012" font-weight="700" dominant-baseline="central">81.8</text>
<path d="M123.985 288.592 C122.485 284.092 116.685 281.49199999999996 116.685 276.49199999999996 A7.3 7.3 0 1 1 131.285 276.49199999999996 C131.285 281.49199999999996 125.485 284.092 123.985 288.592Z" fill="#1e90ff"/>
<text x="123.985" y="276.69199999999995" font-size="6.4" fill="#fff" font-weight="700" text-anchor="middle" dominant-baseline="central">98</text>
<path d="M271.605 369.452 C270.105 364.952 264.305 362.352 264.305 357.352 A7.3 7.3 0 1 1 278.90500000000003 357.352 C278.90500000000003 362.352 273.105 364.952 271.605 369.452Z" fill="#ee1c1c"/>
<text x="271.605" y="357.55199999999996" font-size="6.4" fill="#fff" font-weight="700" text-anchor="middle" dominant-baseline="central">38</text>
<rect x="175" y="280.6" width="13" height="6" rx="1.4" fill="url(#bg)"/>
<text x="190" y="283.40000000000003" font-size="5.8999999999999995" fill="#333" dominant-baseline="central">總分</text>
<line x1="206.4" y1="283.6" x2="219.4" y2="283.6" stroke="#a0a012" stroke-width="0.9"/><circle cx="213" cy="283.8" r="2.6" fill="#a0a012"/>
<text x="222" y="283.40000000000003" font-size="5.8999999999999995" fill="#333" dominant-baseline="central">班級平均</text>
<text x="94.4" y="276.6" font-size="5.7" fill="#666" dominant-baseline="central">總分</text>
<text x="310" y="422.6" font-size="5.7" fill="#666" dominant-baseline="central">座號</text>
<line x1="383.04999999999995" y1="425.00" x2="590.65" y2="425.00" stroke="#8c8c8c" stroke-width="0.7"/>
<text x="381.65" y="425.10" font-size="6.3" fill="#a0a0a0" text-anchor="end" dominant-baseline="central">0</text>
<line x1="383.04999999999995" y1="397.64" x2="590.65" y2="397.64" stroke="#c4c4c4" stroke-width="0.7"/>
<text x="381.65" y="397.74" font-size="6.3" fill="#a0a0a0" text-anchor="end" dominant-baseline="central">3</text>
<line x1="383.04999999999995" y1="370.28" x2="590.65" y2="370.28" stroke="#c4c4c4" stroke-width="0.7"/>
<text x="381.65" y="370.38" font-size="6.3" fill="#a0a0a0" text-anchor="end" dominant-baseline="central">6</text>
<line x1="383.04999999999995" y1="342.92" x2="590.65" y2="342.92" stroke="#c4c4c4" stroke-width="0.7"/>
<text x="381.65" y="343.02" font-size="6.3" fill="#a0a0a0" text-anchor="end" dominant-baseline="central">9</text>
<line x1="383.04999999999995" y1="315.56" x2="590.65" y2="315.56" stroke="#c4c4c4" stroke-width="0.7"/>
<text x="381.65" y="315.66" font-size="6.3" fill="#a0a0a0" text-anchor="end" dominant-baseline="central">12</text>
<line x1="383.04999999999995" y1="288.20" x2="590.65" y2="288.20" stroke="#c4c4c4" stroke-width="0.7"/>
<text x="381.65" y="288.30" font-size="6.3" fill="#a0a0a0" text-anchor="end" dominant-baseline="central">15</text>
<text x="395.90" y="418.40" font-size="7.6" fill="#3db9ec" font-weight="700" text-anchor="middle" dominant-baseline="central">0</text>
<text x="416.40" y="418.40" font-size="7.6" fill="#3db9ec" font-weight="700" text-anchor="middle" dominant-baseline="central">0</text>
<text x="436.90" y="418.40" font-size="7.6" fill="#3db9ec" font-weight="700" text-anchor="middle" dominant-baseline="central">0</text>
<rect x="449.15" y="415.88" width="16.5" height="9.12" fill="url(#bg)"/>
<text x="457.40" y="409.28" font-size="7.6" fill="#3db9ec" font-weight="700" text-anchor="middle" dominant-baseline="central">1</text>
<text x="477.90" y="418.40" font-size="7.6" fill="#3db9ec" font-weight="700" text-anchor="middle" dominant-baseline="central">0</text>
<rect x="490.15" y="415.88" width="16.5" height="9.12" fill="url(#bg)"/>
<text x="498.40" y="409.28" font-size="7.6" fill="#3db9ec" font-weight="700" text-anchor="middle" dominant-baseline="central">1</text>
<rect x="510.65" y="379.40" width="16.5" height="45.60" fill="url(#bg)"/>
<text x="518.90" y="372.80" font-size="7.6" fill="#3db9ec" font-weight="700" text-anchor="middle" dominant-baseline="central">5</text>
<rect x="531.15" y="397.64" width="16.5" height="27.36" fill="url(#bg)"/>
<text x="539.40" y="391.04" font-size="7.6" fill="#3db9ec" font-weight="700" text-anchor="middle" dominant-baseline="central">3</text>
<rect x="551.65" y="361.16" width="16.5" height="63.84" fill="url(#bg)"/>
<text x="559.90" y="354.56" font-size="7.6" fill="#3db9ec" font-weight="700" text-anchor="middle" dominant-baseline="central">7</text>
<rect x="572.15" y="306.44" width="16.5" height="118.56" fill="url(#bg)"/>
<text x="580.40" y="299.84" font-size="7.6" fill="#3db9ec" font-weight="700" text-anchor="middle" dominant-baseline="central">13</text>
<line x1="416.40" y1="425" x2="416.40" y2="427" stroke="#8c8c8c" stroke-width="0.7"/>
<text x="410.20" y="432.8" font-size="6.1" fill="#a0a0a0" text-anchor="middle" dominant-baseline="central">10%</text>
<line x1="457.40" y1="425" x2="457.40" y2="427" stroke="#8c8c8c" stroke-width="0.7"/>
<text x="451.20" y="432.8" font-size="6.1" fill="#a0a0a0" text-anchor="middle" dominant-baseline="central">30%</text>
<line x1="498.40" y1="425" x2="498.40" y2="427" stroke="#8c8c8c" stroke-width="0.7"/>
<text x="492.20" y="432.8" font-size="6.1" fill="#a0a0a0" text-anchor="middle" dominant-baseline="central">50%</text>
<line x1="539.40" y1="425" x2="539.40" y2="427" stroke="#8c8c8c" stroke-width="0.7"/>
<text x="533.20" y="432.8" font-size="6.1" fill="#a0a0a0" text-anchor="middle" dominant-baseline="central">70%</text>
<line x1="580.40" y1="425" x2="580.40" y2="427" stroke="#8c8c8c" stroke-width="0.7"/>
<text x="574.20" y="432.8" font-size="6.1" fill="#a0a0a0" text-anchor="middle" dominant-baseline="central">90%</text>
<rect x="469.6" y="270.49999999999994" width="12.4" height="6.8" rx="1" fill="url(#bg)"/>
<text x="485" y="273.79999999999995" font-size="5.8" fill="#333" dominant-baseline="central">人數</text>
<text x="380" y="276.79999999999995" font-size="5.7" fill="#666" dominant-baseline="central">人數</text>
</svg>
</div>
</div>

<!-- ============ screenshot 2 (cognitive level) ============ -->
<div class="shot" id="s2" style="left:169px;top:380px;width:531px;height:218px">
  <div class="side" style="top:0;width:38px;height:218px"></div>
<div class="abs" style="left:0;top:0;width:38px;height:25px;background:#121318"></div>
<div class="abs" style="left:36.6px;top:0;width:1.4px;height:25px;background:#2cb5e8"></div>
<div class="abs" style="left:0;top:29.6px;width:38px;height:1px;background:#2b2d33"></div>
<div class="t" style="left:13.6px;top:45.6px;font-size:6.2px;color:#f4f4f4;font-weight:700">個人</div>
<svg width="38" height="218" viewBox="0 0 38 218" fill="none" stroke="#e8e8e8" stroke-width="0.95">
<g transform="translate(15.4 15.2) scale(0.86)"><rect x="-3.2" y="-3.2" width="6.4" height="6.4" stroke="#2cb5e8" fill="#2cb5e8" fill-opacity=".4"/><path d="M-1.8 -1 H1.8 M-1.8 1.2 H.6" stroke="#d8f3ff" stroke-width="0.7"/></g>
<g transform="translate(15.4 66.4) scale(0.86)"><path d="M-3 -3 H3 M-3 -3 V3 M-.8 -.4 L2.8 3 M2.6 -1 L-.4 2.6" stroke-width="0.9"/></g>
<g transform="translate(15.4 87.2) scale(0.86)"><rect x="-3" y="-3.3" width="6" height="6.6"/><path d="M-1.2 -1 H2 M-1.2 1 H2" stroke-width="0.7"/></g>
<g transform="translate(15.4 108.3) scale(0.86)"><rect x="-3.4" y="-3.6" width="6.8" height="3"/><rect x="-3.4" y=".6" width="6.8" height="3"/></g><g transform="translate(27.8 108.3) scale(0.86)"><path d="M-2.2 -1.1 l2.2 2.2 l2.2 -2.2"/></g>
<g transform="translate(15.4 129.1) scale(0.86)"><rect x="-3.2" y="-3.2" width="6.4" height="6.4"/><rect x="-3.2" y="-3.2" width="3.2" height="6.4" fill="#eee"/></g><g transform="translate(27.8 129.1) scale(0.86)"><path d="M-2.2 -1.1 l2.2 2.2 l2.2 -2.2"/></g>
<g transform="translate(15.4 150.2) scale(0.86)"><rect x="-3.2" y="-2.6" width="6.4" height="5.6" rx="0.6"/><path d="M-1.4 -2.8 V-3.9 H1.4 V-2.8 M-1.4 .6 l1.1 1.1 l1.8 -2" stroke-width="0.8"/></g>
</svg>
<div class="sec" style="left:65.6px;top:-2.4px;width:265px;height:17px;font-size:7.9px;line-height:17px;padding-left:5.4px;border-left-width:2.6px">認知層次占比</div>
<div class="sec" style="left:357.4px;top:-2.4px;width:180px;height:17px;font-size:7.9px;line-height:17px;padding-left:5.4px;border-left-width:2.6px">認知層次得分率分佈圖</div>
<svg width="531" height="218" viewBox="0 0 531 218">
<path d="M197.10 48.70 A70.3 70.3 0 1 1 152.86 173.63 L184.70 134.31 A19.7 19.7 0 1 0 197.10 99.30Z" fill="#fb98ae"/>
<path d="M173.50 148.14 A37.5 37.5 0 0 1 162.84 103.75 L179.10 110.99 A19.7 19.7 0 0 0 184.70 134.31Z" fill="#86f5cf"/>
<path d="M168.60 106.31 A31.2 31.2 0 0 1 190.08 88.60 L192.67 99.80 A19.7 19.7 0 0 0 179.10 110.99Z" fill="#f6f290"/>
<path d="M191.79 96.00 A23.6 23.6 0 0 1 196.85 95.40 L196.89 99.30 A19.7 19.7 0 0 0 192.67 99.80Z" fill="#62b8f7"/>
<path d="M194.3 96.2 L170.4 42.0 L164.0 42.0" fill="none" stroke="#73c6ff" stroke-width="0.7"/><text x="161.4" y="41.0" font-size="6.1" fill="#73c6ff" text-anchor="end" dominant-baseline="central">分析</text>
<path d="M177.6 94.9 L147.5 59.4 L139.5 59.4" fill="none" stroke="#f3ea80" stroke-width="0.7"/><text x="137.0" y="58.6" font-size="6.1" fill="#f3ea80" text-anchor="end" dominant-baseline="central">應用</text>
<path d="M160.6 127.4 L124.0 136.2 L116.5 136.2" fill="none" stroke="#84f0c9" stroke-width="0.7"/><text x="114.0" y="134.8" font-size="6.1" fill="#84f0c9" text-anchor="end" dominant-baseline="central">理解</text>
<path d="M263.2 143.0 L270.0 148.0 L276.0 148.0" fill="none" stroke="#f78fa8" stroke-width="0.7"/><text x="277.6" y="147.2" font-size="6.1" fill="#f78fa8" text-anchor="start" dominant-baseline="central">記憶</text>
<path d="M197.3 49.0 L197.3 42.0 L205.4 42.0" fill="none" stroke="#f7c29c" stroke-width="0.7"/><text x="207.3" y="41.0" font-size="6.1" fill="#f7c29c" text-anchor="start" dominant-baseline="central">評鑑</text>
<path d="M227.4 55.5 L234.0 48.2 L240.6 48.2" fill="none" stroke="#cfa0ef" stroke-width="0.7"/><text x="242.8" y="46.8" font-size="6.1" fill="#cfa0ef" text-anchor="start" dominant-baseline="central">創造</text>
<defs><linearGradient id="rg2" x1="0" y1="0" x2="0" y2="1"><stop offset="0" stop-color="#62d4cd"/><stop offset="0.5" stop-color="#6dcbe0"/><stop offset="1" stop-color="#84bdf2"/></linearGradient></defs>
<polygon points="503.70,56.70 446.98,89.45 446.98,154.95 503.70,187.70 560.42,154.95 560.42,89.45" fill="#fff" stroke="none" stroke-width="0"/>
<polygon points="503.70,69.80 458.32,96.00 458.32,148.40 503.70,174.60 549.08,148.40 549.08,96.00" fill="#ececec" stroke="none" stroke-width="0"/>
<polygon points="503.70,82.90 469.67,102.55 469.67,141.85 503.70,161.50 537.73,141.85 537.73,102.55" fill="#fff" stroke="none" stroke-width="0"/>
<polygon points="503.70,96.00 481.01,109.10 481.01,135.30 503.70,148.40 526.39,135.30 526.39,109.10" fill="#ececec" stroke="none" stroke-width="0"/>
<polygon points="503.70,109.10 492.36,115.65 492.36,128.75 503.70,135.30 515.04,128.75 515.04,115.65" fill="#fff" stroke="none" stroke-width="0"/>
<polygon points="503.70,109.10 492.36,115.65 492.36,128.75 503.70,135.30 515.04,128.75 515.04,115.65" fill="none" stroke="#e8935f" stroke-width="0.7"/>
<polygon points="503.70,96.00 481.01,109.10 481.01,135.30 503.70,148.40 526.39,135.30 526.39,109.10" fill="none" stroke="#ea9c6c" stroke-width="0.7"/>
<polygon points="503.70,82.90 469.67,102.55 469.67,141.85 503.70,161.50 537.73,141.85 537.73,102.55" fill="none" stroke="#efb28d" stroke-width="0.7"/>
<polygon points="503.70,69.80 458.32,96.00 458.32,148.40 503.70,174.60 549.08,148.40 549.08,96.00" fill="none" stroke="#f5cdb5" stroke-width="0.7"/>
<polygon points="503.70,56.70 446.98,89.45 446.98,154.95 503.70,187.70 560.42,154.95 560.42,89.45" fill="none" stroke="#fbe6da" stroke-width="0.7"/>
<line x1="503.70000000000005" y1="122.19999999999999" x2="503.70" y2="56.70" stroke="#fbe3d6" stroke-width="0.5"/>
<line x1="503.70000000000005" y1="122.19999999999999" x2="446.98" y2="89.45" stroke="#fbe3d6" stroke-width="0.5"/>
<line x1="503.70000000000005" y1="122.19999999999999" x2="446.98" y2="154.95" stroke="#fbe3d6" stroke-width="0.5"/>
<line x1="503.70000000000005" y1="122.19999999999999" x2="503.70" y2="187.70" stroke="#fbe3d6" stroke-width="0.5"/>
<line x1="503.70000000000005" y1="122.19999999999999" x2="560.42" y2="154.95" stroke="#fbe3d6" stroke-width="0.5"/>
<line x1="503.70000000000005" y1="122.19999999999999" x2="560.42" y2="89.45" stroke="#fbe3d6" stroke-width="0.5"/>
<polygon points="503.70,59.97 456.28,94.82 451.51,152.33 503.70,171.00 503.70,122.20 503.70,122.20" fill="url(#rg2)" stroke="#6db4ee" stroke-width="0.5"/>
<clipPath id="lc"><rect x="423.70000000000005" y="42.19999999999999" width="80" height="160"/></clipPath>
<g clip-path="url(#lc)">
<polygon points="503.70,109.10 492.36,115.65 492.36,128.75 503.70,135.30 515.04,128.75 515.04,115.65" fill="none" stroke="rgba(120,110,100,0.5)" stroke-width="0.6"/>
<polygon points="503.70,96.00 481.01,109.10 481.01,135.30 503.70,148.40 526.39,135.30 526.39,109.10" fill="none" stroke="rgba(120,110,100,0.42)" stroke-width="0.6"/>
<polygon points="503.70,82.90 469.67,102.55 469.67,141.85 503.70,161.50 537.73,141.85 537.73,102.55" fill="none" stroke="rgba(120,110,100,0.28)" stroke-width="0.6"/>
<polygon points="503.70,69.80 458.32,96.00 458.32,148.40 503.70,174.60 549.08,148.40 549.08,96.00" fill="none" stroke="rgba(120,110,100,0.14)" stroke-width="0.6"/>
</g>
<text x="503.5" y="38.7" font-size="7" fill="#333" text-anchor="middle" dominant-baseline="central">記憶</text>
<text x="432.2" y="84.2" font-size="7" fill="#333" text-anchor="end" dominant-baseline="central">理解</text>
<text x="432.2" y="158.2" font-size="7" fill="#333" text-anchor="end" dominant-baseline="central">應用</text>
<text x="504.0" y="205.2" font-size="7" fill="#333" text-anchor="middle" dominant-baseline="central">分析</text>
</svg>
</div>

<!-- ============ banners ============ -->
<div class="banner" style="left:3px;top:8px;width:421px;height:30px;padding-left:9px;line-height:34px">本次測驗結果知識點與認知層次掌握分析</div>
<div class="banner" style="left:262.4px;top:740.4px;width:174.6px;height:30px;padding-left:10px;line-height:34.4px">班級得分率分析</div>

</body>
</html>
